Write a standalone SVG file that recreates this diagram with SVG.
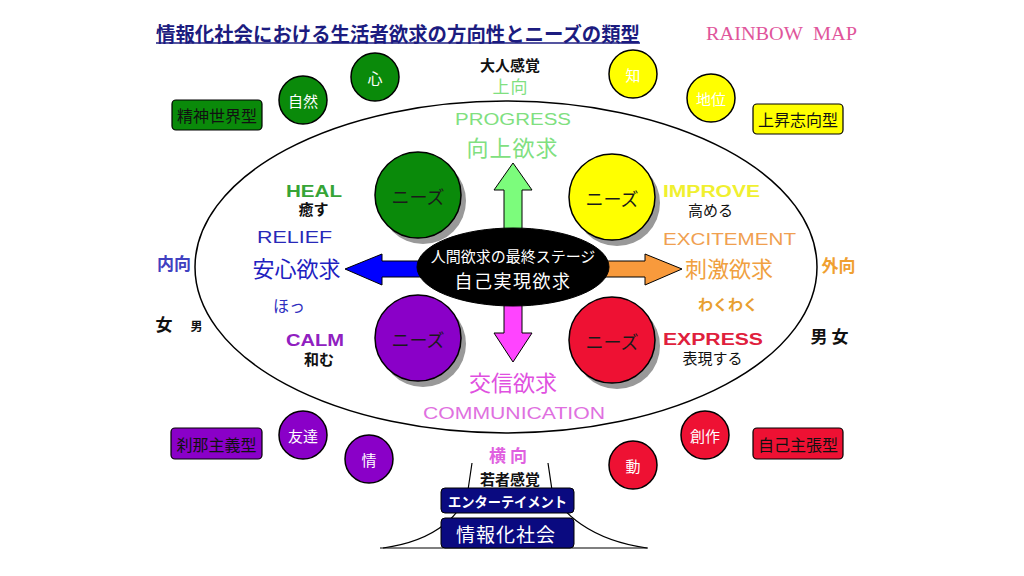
<svg xmlns="http://www.w3.org/2000/svg" width="1024" height="576" viewBox="0 0 1024 576">
<style>
text{font-family:"Liberation Sans","Noto Sans CJK JP",sans-serif;text-anchor:middle;dominant-baseline:central}
.jp{font-family:"Noto Sans CJK JP","Liberation Sans",sans-serif}
.b{font-weight:bold}
.ol{stroke:#000;stroke-width:1.5}
.sm{font-size:15px;fill:#fff}
.need{font-size:18px;fill:#1a1a1a}
.box{stroke:#000;stroke-width:1.2}
.boxt{font-size:16px;fill:#111}
</style>
<rect width="1024" height="576" fill="#fff"/>

<g id="title">
<text class="jp b" x="156" y="33" font-size="20" fill="#1c1c80" style="text-anchor:start" textLength="484" lengthAdjust="spacingAndGlyphs">情報化社会における生活者欲求の方向性とニーズの類型</text>
<line x1="156" y1="43" x2="640" y2="43" stroke="#1c1c80" stroke-width="1.5"/>
</g>
<text x="781.5" y="34" font-size="18" fill="#e0559b" textLength="151" lengthAdjust="spacingAndGlyphs" style="font-family:'Liberation Serif',serif">RAINBOW&#160; MAP</text>

<g id="big-ellipse"><ellipse cx="506" cy="267" rx="311" ry="166" fill="none" stroke="#000" stroke-width="1.5"/></g>

<g id="connectors" stroke="#000" stroke-width="1">
<path d="M504 232 L504 190 L494 190 L513 163 L532 190 L522 190 L522 232 Z" fill="#7cfc7c"/>
<path d="M504 300 L504 333 L494 333 L513 362 L532 333 L522 333 L522 300 Z" fill="#ff44ff"/>
<path d="M425 261 L382 261 L382 254 L345 269 L382 285 L382 277 L425 277 Z" fill="#0000ff"/>
<path d="M600 261 L645 261 L645 254 L682 269 L645 285 L645 277 L600 277 Z" fill="#f89a3c"/>
</g>

<g id="center">
<ellipse cx="513" cy="267" rx="96" ry="39" fill="#000" stroke="#000"/>
<text class="jp" x="513" y="255" font-size="15" fill="#fff">人間欲求の最終ステージ</text>
<text class="jp" x="513" y="280" font-size="18" fill="#fff" letter-spacing="1.5">自己実現欲求</text>
</g>

<g id="needs-green"><circle cx="423" cy="201" r="43" fill="#999"/><circle cx="418" cy="195" r="43" fill="#0a8a0a" class="ol"/><text class="jp need" x="418" y="196">ニーズ</text></g>
<g id="needs-yellow"><circle cx="617" cy="203" r="43" fill="#999"/><circle cx="612" cy="197" r="43" fill="#ffff00" class="ol"/><text class="jp need" x="612" y="198">ニーズ</text></g>
<g id="needs-purple"><circle cx="423" cy="344" r="43" fill="#999"/><circle cx="418" cy="338" r="43" fill="#8a00c8" class="ol"/><text class="jp need" x="418" y="339">ニーズ</text></g>
<g id="needs-red"><circle cx="617" cy="346" r="43" fill="#999"/><circle cx="612" cy="340" r="43" fill="#ee1133" class="ol"/><text class="jp need" x="612" y="341">ニーズ</text></g>

<g id="top-labels">
<text class="jp b" x="510" y="64.5" font-size="15" fill="#111">大人感覚</text>
<text class="jp" x="510.5" y="85.5" font-size="17" fill="#80e080" letter-spacing="1">上向</text>
<text x="513" y="119" font-size="16" fill="#80e080" textLength="116" lengthAdjust="spacingAndGlyphs">PROGRESS</text>
<text class="jp" x="512.5" y="146" font-size="22" fill="#80e080" letter-spacing="1">向上欲求</text>
</g>

<g id="left-labels">
<text class="b" x="314" y="191.5" font-size="16" fill="#36a436" textLength="56" lengthAdjust="spacingAndGlyphs">HEAL</text>
<text class="jp b" x="313.5" y="208.5" font-size="15" fill="#111">癒す</text>
<text x="294.5" y="237.5" font-size="16" fill="#2828b8" textLength="75" lengthAdjust="spacingAndGlyphs">RELIEF</text>
<text class="jp" x="296.5" y="267" font-size="22" fill="#2020c0">安心欲求</text>
<text class="jp" x="289" y="305" font-size="16" fill="#3030c0">ほっ</text>
<text class="jp b" x="174" y="262.5" font-size="17" fill="#4040c0">内向</text>
<text class="jp b" x="164" y="323.5" font-size="17" fill="#111">女</text>
<text class="jp b" x="196.5" y="325" font-size="12" fill="#111">男</text>
<text class="b" x="315" y="340.5" font-size="16" fill="#9020c0" textLength="58" lengthAdjust="spacingAndGlyphs">CALM</text>
<text class="jp b" x="319" y="358.5" font-size="15" fill="#111">和む</text>
</g>

<g id="right-labels">
<text class="b" x="711.5" y="191" font-size="16" fill="#f0f030" textLength="97" lengthAdjust="spacingAndGlyphs">IMPROVE</text>
<text class="jp" x="710.5" y="209" font-size="15" fill="#111">高める</text>
<text x="729.5" y="239" font-size="16" fill="#f0a050" textLength="133" lengthAdjust="spacingAndGlyphs">EXCITEMENT</text>
<text class="jp" x="729" y="267" font-size="22" fill="#f0a040">刺激欲求</text>
<text class="jp b" x="728" y="303.5" font-size="15" fill="#e8a030">わくわく</text>
<text class="jp b" x="838.5" y="264" font-size="17" fill="#f0a030">外向</text>
<text class="b" x="713" y="339.5" font-size="16" fill="#e0203c" textLength="100" lengthAdjust="spacingAndGlyphs">EXPRESS</text>
<text class="jp" x="712.5" y="357.5" font-size="15" fill="#111">表現する</text>
<text class="jp b" x="829.5" y="335.5" font-size="17" fill="#111">男 女</text>
</g>

<g id="bottom-labels">
<text class="jp" x="513" y="381" font-size="22" fill="#e050e0">交信欲求</text>
<text x="514" y="413.5" font-size="16" fill="#e070e0" textLength="182" lengthAdjust="spacingAndGlyphs">COMMUNICATION</text>
<text class="jp b" x="510" y="454.5" font-size="17" fill="#e060e0" letter-spacing="4">横向</text>
<text class="jp b" x="510" y="478.5" font-size="15" fill="#111">若者感覚</text>
</g>

<g id="trunk" fill="none" stroke="#000" stroke-width="1.2">
<path d="M472 463 L468 490 C462 512 440 540 383 548"/>
<path d="M548 463 L552 490 C560 512 590 540 647 548"/>
<line x1="380" y1="548" x2="648" y2="548"/>
</g>
<g id="box-entertainment"><rect x="441" y="488" width="133" height="25" rx="4" fill="#0a0a80" stroke="#000"/><text class="jp b" x="507.5" y="500.5" font-size="14" fill="#fff" textLength="119" lengthAdjust="spacingAndGlyphs">エンターテイメント</text></g>
<g id="box-society"><rect x="441" y="518" width="133" height="30" rx="4" fill="#0a0a80" stroke="#000"/><text class="jp" x="506" y="533" font-size="19" fill="#fff" letter-spacing="1">情報化社会</text></g>

<g id="green-group">
<circle cx="375" cy="77" r="24" fill="#0a8a0a" class="ol"/><text class="jp sm" x="375" y="77">心</text>
<circle cx="303" cy="100" r="24" fill="#0a8a0a" class="ol"/><text class="jp sm" x="303" y="100">自然</text>
<rect x="172" y="100" width="90" height="30" rx="4" fill="#0a8a0a" class="box"/><text class="jp boxt" x="217" y="115">精神世界型</text>
</g>
<g id="yellow-group">
<circle cx="633" cy="74" r="24" fill="#ffff00" class="ol"/><text class="jp sm" x="633" y="74">知</text>
<circle cx="711" cy="98" r="24" fill="#ffff00" class="ol"/><text class="jp sm" x="711" y="98">地位</text>
<rect x="753" y="104" width="90" height="30" rx="4" fill="#ffff00" class="box"/><text class="jp boxt" x="798" y="119">上昇志向型</text>
</g>
<g id="purple-group">
<circle cx="303" cy="435" r="24" fill="#8a00c8" class="ol"/><text class="jp sm" x="303" y="435">友達</text>
<circle cx="369" cy="459" r="24" fill="#8a00c8" class="ol"/><text class="jp sm" x="369" y="459">情</text>
<rect x="171" y="428" width="91" height="31" rx="4" fill="#8a00c8" class="box"/><text class="jp boxt" x="216.5" y="443.5">刹那主義型</text>
</g>
<g id="red-group">
<circle cx="705" cy="435" r="24" fill="#ee1133" class="ol"/><text class="jp sm" x="705" y="435">創作</text>
<circle cx="633" cy="465" r="24" fill="#ee1133" class="ol"/><text class="jp sm" x="633" y="465">動</text>
<rect x="753" y="428" width="90" height="31" rx="4" fill="#ee1133" class="box"/><text class="jp boxt" x="798" y="443.5">自己主張型</text>
</g>
</svg>
